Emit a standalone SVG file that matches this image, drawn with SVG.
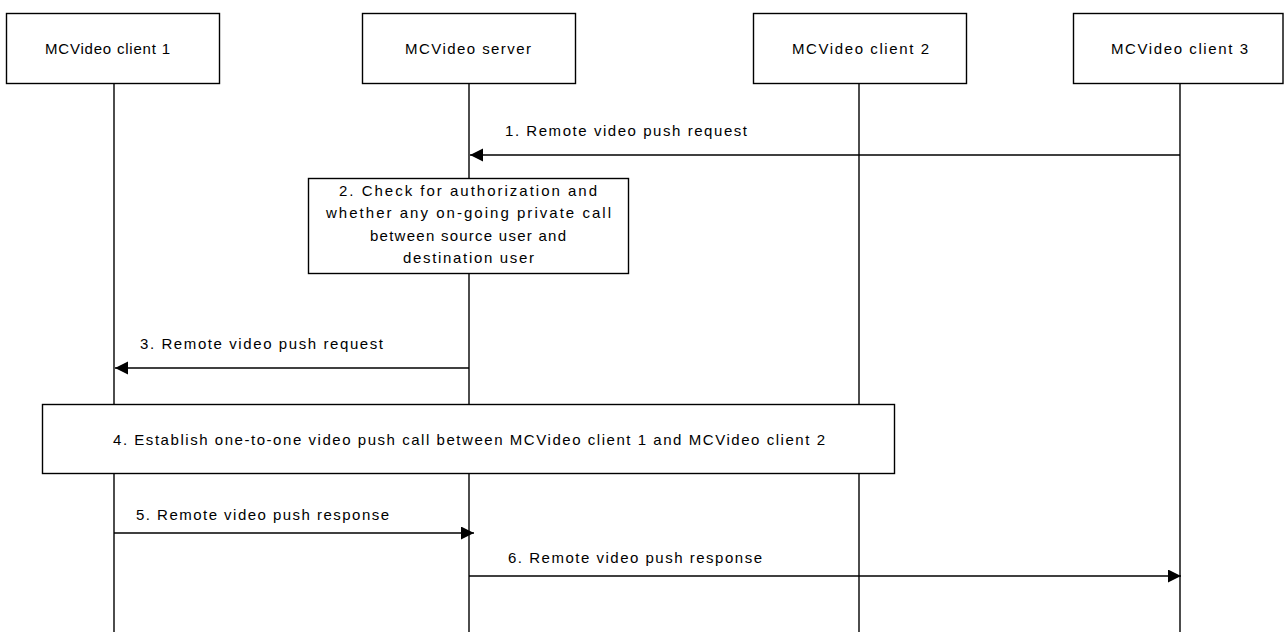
<svg xmlns="http://www.w3.org/2000/svg" width="1284" height="632" viewBox="0 0 1284 632">
<style>
.box{fill:#fff;stroke:#000;stroke-width:1.4}
.life{stroke:#000;stroke-width:1.4;fill:none}
.msg{stroke:#000;stroke-width:1.4;fill:none;marker-end:url(#ah)}
text{font-family:"Liberation Sans","Open Sans",sans-serif;font-size:15px;fill:#000}
</style>
<defs>
<marker id="ah" markerUnits="userSpaceOnUse" markerWidth="14" markerHeight="14" refX="13" refY="6.5" orient="auto">
<path d="M0,0 L13,6.5 L0,13 Z" fill="#000"/>
</marker>
</defs>
<rect width="1284" height="632" fill="#fff"/>
<g id="lifelines">
<line class="life" x1="114" y1="84" x2="114" y2="632"/>
<line class="life" x1="469" y1="84" x2="469" y2="632"/>
<line class="life" x1="859" y1="84" x2="859" y2="632"/>
<line class="life" x1="1180" y1="84" x2="1180" y2="632"/>
</g>
<g id="client1"><rect class="box" x="6.5" y="13.5" width="213" height="70"/><text x="45" y="54" textLength="125" lengthAdjust="spacing">MCVideo client 1</text></g>
<g id="server"><rect class="box" x="362.5" y="13.5" width="213" height="70"/><text x="405" y="54" textLength="126" lengthAdjust="spacing">MCVideo server</text></g>
<g id="client2"><rect class="box" x="753.5" y="13.5" width="213" height="70"/><text x="792" y="54" textLength="137" lengthAdjust="spacing">MCVideo client 2</text></g>
<g id="client3"><rect class="box" x="1073.5" y="13.5" width="209.5" height="70"/><text x="1111" y="54" textLength="137" lengthAdjust="spacing">MCVideo client 3</text></g>
<g id="connectors">
<line class="msg" x1="1180" y1="155" x2="470" y2="155"/>
<line class="msg" x1="469" y1="368" x2="115" y2="368"/>
<line class="msg" x1="114" y1="533" x2="474" y2="533"/>
<line class="msg" x1="469" y1="576" x2="1181" y2="576"/>
</g>
<g id="labels">
<text x="505" y="136" textLength="242" lengthAdjust="spacing">1. Remote video push request</text>
<text x="140" y="349" textLength="243" lengthAdjust="spacing">3. Remote video push request</text>
<text x="136" y="520" textLength="253" lengthAdjust="spacing">5. Remote video push response</text>
<text x="508" y="563" textLength="254" lengthAdjust="spacing">6. Remote video push response</text>
</g>
<g id="step2"><rect class="box" x="308.5" y="178.5" width="320" height="95"/>
<text x="339" y="196" textLength="258" lengthAdjust="spacing">2. Check for authorization and</text>
<text x="326" y="218" textLength="285" lengthAdjust="spacing">whether any on-going private call</text>
<text x="370" y="241" textLength="196" lengthAdjust="spacing">between source user and</text>
<text x="403" y="263" textLength="131" lengthAdjust="spacing">destination user</text>
</g>
<g id="step4"><rect class="box" x="42.5" y="404.5" width="852" height="69"/>
<text x="113" y="445" textLength="712" lengthAdjust="spacing">4. Establish one-to-one video push call between MCVideo client 1 and MCVideo client 2</text>
</g>
</svg>
